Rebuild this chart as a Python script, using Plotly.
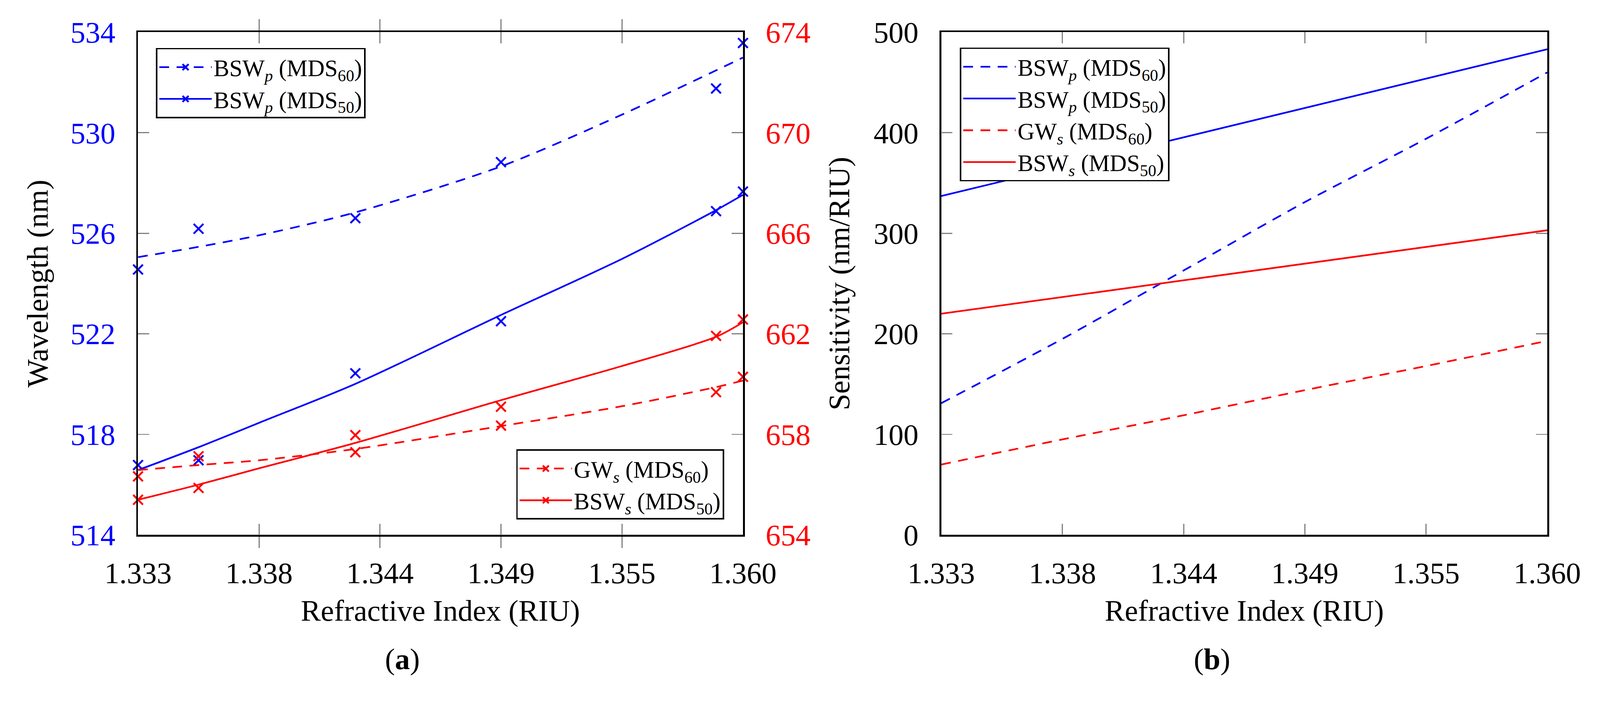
import plotly.graph_objects as go

# ---------------- data ----------------
# (a) measured resonance wavelengths
ri_meas = [1.333, 1.3357, 1.3427, 1.3492, 1.3588, 1.360]
bswp_mds60_meas = [524.56, 526.18, 526.60, 528.83, 531.76, 533.57]      # left axis (nm)
bswp_mds50_meas = [516.78, 516.97, 520.43, 522.50, 526.88, 527.66]      # left axis (nm)
gws_mds60_meas = [656.33, 657.13, 657.29, 658.35, 659.68, 660.29]       # right axis (nm)
bsws_mds50_meas = [655.40, 655.87, 657.97, 659.10, 661.92, 662.57]      # right axis (nm)

# (a) fitted curves, read at these refractive indices
ri_fit = [1.333, 1.3357, 1.3384, 1.3427, 1.3492, 1.3546, 1.3588, 1.360]
bswp_mds60_fit = [525.05, 525.46, 525.92, 526.83, 528.66, 530.72, 532.48, 532.99]
bswp_mds50_fit = [516.58, 517.49, 518.46, 520.01, 522.75, 524.98, 526.92, 527.53]
gws_mds60_fit = [656.58, 656.78, 656.97, 657.42, 658.33, 659.12, 659.88, 660.14]
bsws_mds50_fit = [655.40, 656.00, 656.65, 657.66, 659.36, 660.72, 661.88, 662.46]

# (b) sensitivities
ri_sens = [1.333, 1.3384, 1.3438, 1.3492, 1.3546, 1.360]
sens_bswp_mds60 = [131, 195, 263, 331, 394, 460]
sens_gws_mds60 = [70, 95, 119, 144, 168, 193]
ri_sens_lin = [1.333, 1.360]
sens_bswp_mds50 = [337, 483]
sens_bsws_mds50 = [220, 303]

x_tickvals = [1.333, 1.3384, 1.3438, 1.3492, 1.3546, 1.360]
x_ticktext = ["1.333", "1.338", "1.344", "1.349", "1.355", "1.360"]

# labels
lbl_bswp60 = "BSW<sub><i>p</i></sub> (MDS<sub>60</sub>)"
lbl_bswp50 = "BSW<sub><i>p</i></sub> (MDS<sub>50</sub>)"
lbl_gws60 = "GW<sub><i>s</i></sub> (MDS<sub>60</sub>)"
lbl_bsws50 = "BSW<sub><i>s</i></sub> (MDS<sub>50</sub>)"

# ---------------- style ----------------
FONT = "Liberation Serif"
BLUE = "#0000ff"
RED = "#ff0000"
DASH = "26px,20px"
LW = 4.5
MSIZE = 26
TICKF = 80
W, H = 4277, 1833

fig = go.Figure()

def marker_trace(x, y, color, xa, ya):
    return go.Scatter(x=x, y=y, xaxis=xa, yaxis=ya, mode="markers",
                      marker=dict(symbol="x-thin", size=MSIZE, color=color,
                                  line=dict(color=color, width=5)),
                      cliponaxis=False, showlegend=False, hoverinfo="skip")

def line_trace(x, y, color, dash, xa, ya, name=None, legend=None, show=False):
    return go.Scatter(x=x, y=y, xaxis=xa, yaxis=ya, mode="lines",
                      line=dict(color=color, width=LW, dash=dash, shape="spline",
                                smoothing=0.8),
                      name=name, legend=legend, showlegend=show, hoverinfo="skip")

def legend_entry(name, color, dash, legend):
    return go.Scatter(x=[None], y=[None], mode="lines+markers", name=name, legend=legend,
                      line=dict(color=color, width=LW, dash=dash),
                      marker=dict(symbol="x-thin", size=MSIZE, color=color,
                                  line=dict(color=color, width=5)),
                      xaxis="x", yaxis="y", showlegend=True)

# (a) blue series on left axis
fig.add_trace(line_trace(ri_fit, bswp_mds60_fit, BLUE, DASH, "x", "y"))
fig.add_trace(marker_trace(ri_meas, bswp_mds60_meas, BLUE, "x", "y"))
fig.add_trace(line_trace(ri_fit, bswp_mds50_fit, BLUE, "solid", "x", "y"))
fig.add_trace(marker_trace(ri_meas, bswp_mds50_meas, BLUE, "x", "y"))
# (a) red series on right axis
fig.add_trace(line_trace(ri_fit, gws_mds60_fit, RED, DASH, "x", "y2"))
fig.add_trace(marker_trace(ri_meas, gws_mds60_meas, RED, "x", "y2"))
fig.add_trace(line_trace(ri_fit, bsws_mds50_fit, RED, "solid", "x", "y2"))
fig.add_trace(marker_trace(ri_meas, bsws_mds50_meas, RED, "x", "y2"))

fig.add_trace(legend_entry(lbl_bswp60, BLUE, DASH, "legend"))
fig.add_trace(legend_entry(lbl_bswp50, BLUE, "solid", "legend"))
fig.add_trace(legend_entry(lbl_gws60, RED, DASH, "legend2"))
fig.add_trace(legend_entry(lbl_bsws50, RED, "solid", "legend2"))

# (b) sensitivities
fig.add_trace(line_trace(ri_sens, sens_bswp_mds60, BLUE, DASH, "x2", "y3", lbl_bswp60, "legend3", True))
fig.add_trace(line_trace(ri_sens_lin, sens_bswp_mds50, BLUE, "solid", "x2", "y3", lbl_bswp50, "legend3", True))
fig.add_trace(line_trace(ri_sens, sens_gws_mds60, RED, DASH, "x2", "y3", lbl_gws60, "legend3", True))
fig.add_trace(line_trace(ri_sens_lin, sens_bsws_mds50, RED, "solid", "x2", "y3", lbl_bsws50, "legend3", True))

# ---------------- layout ----------------
PL = [369 / W, 1986 / W]
PR = [2516 / W, 4136 / W]
PY = [1 - 1430 / H, 1 - 86 / H]

axis_common = dict(showline=True, linecolor="black", linewidth=4.5, ticks="inside",
                   ticklen=30, tickwidth=3, tickcolor="#808080", showgrid=False,
                   zeroline=False, automargin=False)

xcommon = dict(axis_common, range=[1.333, 1.360], tickvals=x_tickvals, ticktext=x_ticktext,
               mirror="allticks", tickfont=dict(family=FONT, size=TICKF, color="black"),
               ticklabelstandoff=28)

legend_common = dict(font=dict(family=FONT, size=63, color="black"), bgcolor="white",
                     bordercolor="black", borderwidth=4, itemwidth=140,
                     tracegroupgap=0, itemclick=False)

fig.update_layout(
    width=W, height=H,
    margin=dict(l=0, r=0, t=0, b=0, autoexpand=False),
    paper_bgcolor="white", plot_bgcolor="white",
    font=dict(family=FONT, size=TICKF, color="black"),
    xaxis=dict(xcommon, domain=PL, anchor="y"),
    yaxis=dict(axis_common, domain=PY, anchor="x", range=[514, 534], dtick=4, tick0=514,
               tickfont=dict(family=FONT, size=TICKF, color=BLUE), ticklabelstandoff=40),
    yaxis2=dict(axis_common, overlaying="y", side="right", anchor="x", range=[654, 674],
                dtick=4, tick0=654, tickfont=dict(family=FONT, size=TICKF, color=RED),
                ticklabelstandoff=40),
    xaxis2=dict(xcommon, domain=PR, anchor="y3"),
    yaxis3=dict(axis_common, domain=PY, anchor="x2", range=[0, 500], dtick=100,
                mirror="allticks", tickfont=dict(family=FONT, size=TICKF, color="black"),
                ticklabelstandoff=40),
    legend=dict(legend_common, x=417 / W, y=1 - 128 / H, xanchor="left", yanchor="top"),
    legend2=dict(legend_common, x=1936 / W, y=1 - 1389 / H, xanchor="right", yanchor="bottom"),
    legend3=dict(legend_common, x=2566 / W, y=1 - 127 / H, xanchor="left", yanchor="top"),
    showlegend=True,
)

ann_font = dict(family=FONT, size=TICKF, color="black")
annotations = [
    dict(text="Wavelength (nm)", x=100 / W, y=1 - 758 / H, textangle=-90),
    dict(text="Sensitivity (nm/RIU)", x=2243 / W, y=1 - 758 / H, textangle=-90),
    dict(text="Refractive Index (RIU)", x=1177 / W, y=1 - 1632 / H),
    dict(text="Refractive Index (RIU)", x=3326 / W, y=1 - 1632 / H),
    dict(text="(<b>a</b>)", x=1075 / W, y=1 - 1762 / H),
    dict(text="(<b>b</b>)", x=3240 / W, y=1 - 1762 / H),
]
for a in annotations:
    fig.add_annotation(xref="paper", yref="paper", showarrow=False, xanchor="center",
                       yanchor="middle", font=ann_font, **a)

# fit the fixed-size figure into whatever viewport the page is opened in
post = """
document.documentElement.style.margin='0';
document.body.style.margin='0';
document.body.style.overflow='hidden';
var gd = document.getElementById('{plot_id}');
var s = Math.min(window.innerWidth / %d, window.innerHeight / %d);
gd.style.transformOrigin = '0 0';
gd.style.transform = 'scale(' + s + ')';
""" % (W, H)

fig.write_html("out.html", config={"displayModeBar": False}, post_script=post)
